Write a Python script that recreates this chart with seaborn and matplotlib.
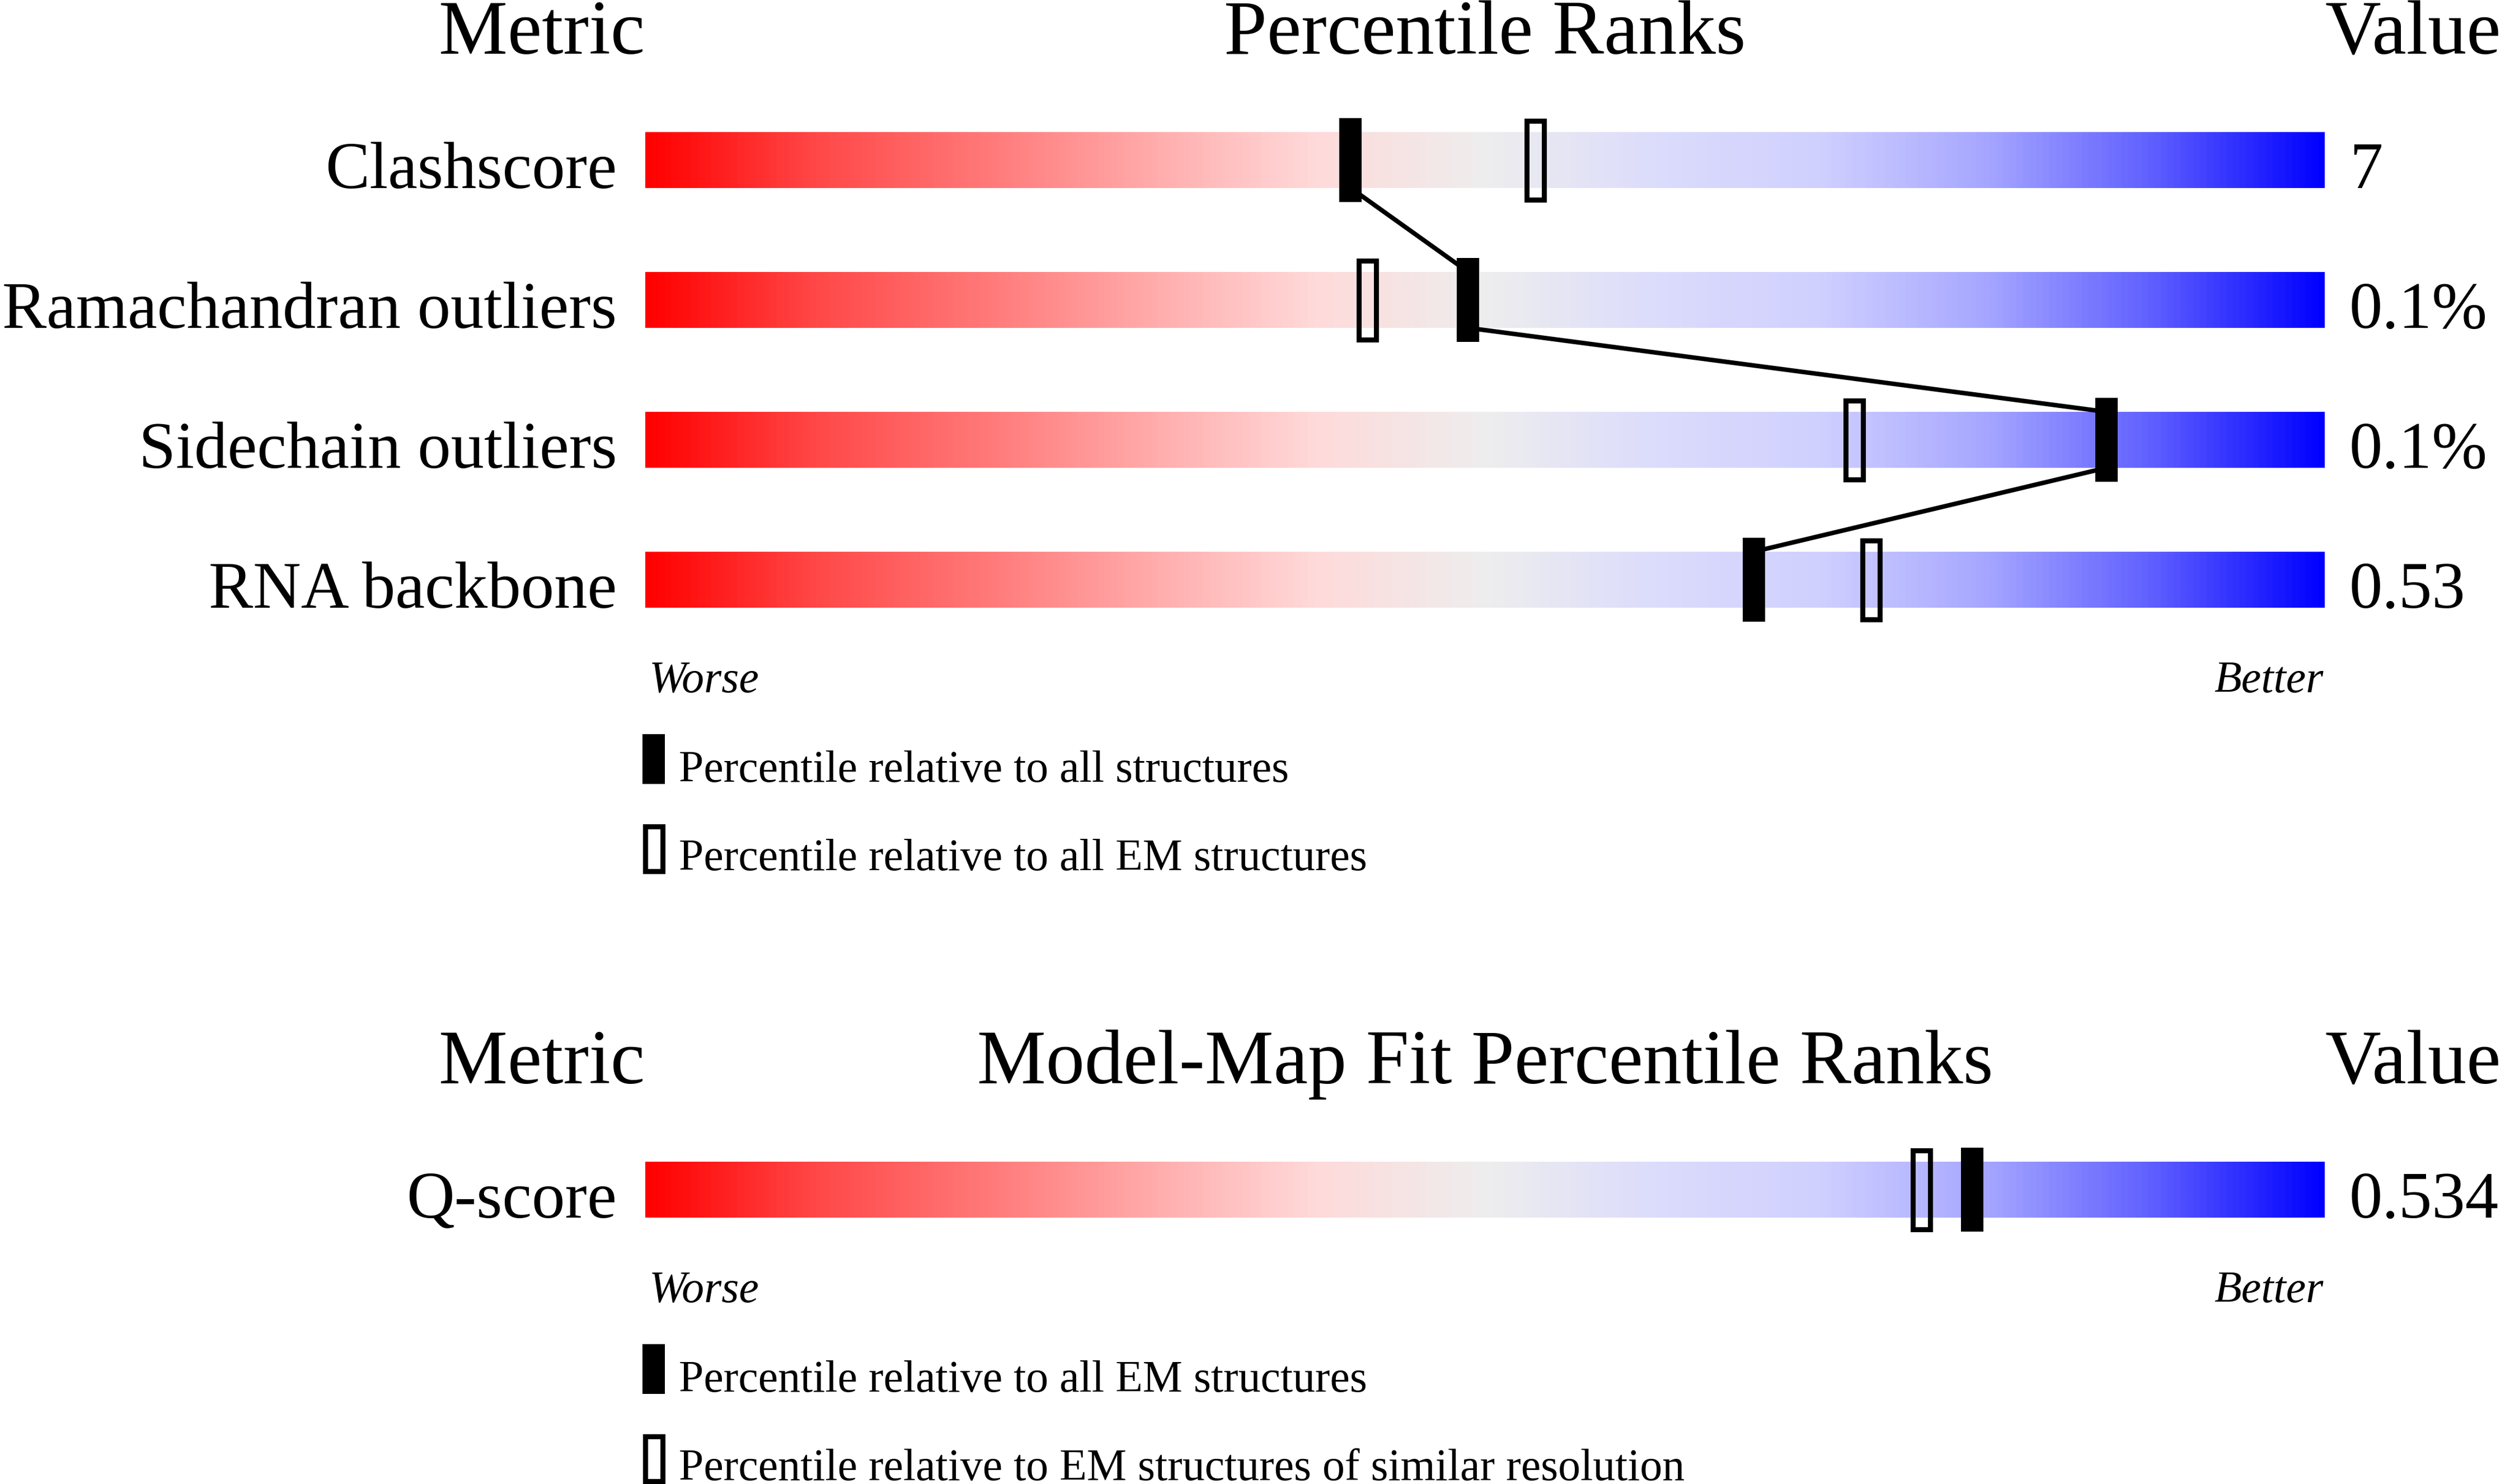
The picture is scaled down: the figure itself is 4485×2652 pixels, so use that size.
import numpy as np
import matplotlib
matplotlib.use("Agg")
import matplotlib.pyplot as plt
import seaborn as sns
from matplotlib.colors import LinearSegmentedColormap

# validation metrics (top panel)
metrics = ["Clashscore", "Ramachandran outliers", "Sidechain outliers", "RNA backbone"]
values = ["7", "0.1%", "0.1%", "0.53"]
pct_all = [42, 49, 87, 66]      # filled markers: all structures
pct_em = [53, 43, 72, 73]       # open markers: all EM structures

# model-map fit (bottom panel)
fit_metrics = ["Q-score"]
fit_values = ["0.534"]
fit_pct_em = [79]               # filled: all EM structures
fit_pct_res = [76]              # open: EM structures of similar resolution

sns.set_style("white")
plt.rcParams["font.family"] = ["Liberation Serif", "DejaVu Serif"]
plt.rcParams["text.color"] = "black"

W, H = 4485, 2652
X0, X1 = 1153, 4154            # pixel extent of the slider bars
scale = (X1 - X0) / 100.0


def px(x):
    # pixel column -> percentile units of the axes
    return (x - X0) / scale


grad = LinearSegmentedColormap.from_list("slider", [
    (0.00, (1.00, 0.00, 0.00)),
    (0.10, (1.00, 0.28, 0.28)),
    (0.20, (1.00, 0.47, 0.47)),
    (0.30, (1.00, 0.67, 0.67)),
    (0.40, (1.00, 0.855, 0.855)),
    (0.50, (0.933, 0.933, 0.933)),
    (0.60, (0.863, 0.863, 0.988)),
    (0.70, (0.816, 0.816, 1.00)),
    (0.80, (0.65, 0.65, 1.00)),
    (0.90, (0.37, 0.37, 1.00)),
    (1.00, (0.00, 0.00, 1.00)),
])
gradient = np.linspace(0, 1, 1024).reshape(1, -1)

fig = plt.figure(figsize=(W / 100, H / 100), dpi=100)
ax = fig.add_axes([0, 0, 1, 1])

BIG, MID, SMALL = 99.5, 85.5, 57.5


def panel(y0, title, names, vals, filled, hollow, leg_labels):
    ys = y0 + 250 * np.arange(len(names))
    # headers
    ax.text(px(1152), y0 - 190, "Metric", fontsize=BIG, ha="right", va="baseline")
    ax.text(50, y0 - 190, title, fontsize=BIG, ha="center", va="baseline")
    ax.text(px(4155), y0 - 190, "Value", fontsize=BIG, ha="left", va="baseline")

    for y, name, val in zip(ys, names, vals):
        ax.imshow(gradient, cmap=grad, aspect="auto", extent=(0, 100, y + 50, y - 50),
                  interpolation="bilinear", zorder=0)
        ax.text(px(1102), y + 50, name, fontsize=MID, ha="right", va="baseline")
        ax.text(px(4198), y + 50, val, fontsize=MID, ha="left", va="baseline")

    # line joining the filled markers
    if len(filled) > 1:
        lx = np.repeat(filled, 2)
        ly = np.column_stack([ys - 50, ys + 50]).ravel()
        sns.lineplot(x=lx, y=ly, sort=False, estimator=None, color="black",
                     linewidth=5.8, ax=ax, zorder=2, legend=False)

    ax.bar(filled, 150, width=40 / scale, bottom=ys - 75, color="black",
           linewidth=0, zorder=3)
    ax.bar(hollow, 141, width=31 / scale, bottom=ys - 70.5, facecolor="none",
           edgecolor="black", linewidth=6.5, zorder=3)

    yl = ys[-1]
    ax.text(px(1160), yl + 201, "Worse", fontsize=SMALL, style="italic",
            ha="left", va="baseline")
    ax.text(px(4152), yl + 201, "Better", fontsize=SMALL, style="italic",
            ha="right", va="baseline")

    # legend
    ax.bar([px(1168)], 89, width=40 / scale, bottom=yl + 276, color="black",
           linewidth=0, zorder=3)
    ax.bar([px(1168)], 80, width=31 / scale, bottom=yl + 440.5, facecolor="none",
           edgecolor="black", linewidth=6.5, zorder=3)
    ax.text(px(1213), yl + 361, leg_labels[0], fontsize=SMALL, ha="left", va="baseline")
    ax.text(px(1213), yl + 519, leg_labels[1], fontsize=SMALL, ha="left", va="baseline")


panel(286, "Percentile Ranks", metrics, values, pct_all, pct_em,
      ["Percentile relative to all structures",
       "Percentile relative to all EM structures"])
panel(2126, "Model-Map Fit Percentile Ranks", fit_metrics, fit_values,
      fit_pct_em, fit_pct_res,
      ["Percentile relative to all EM structures",
       "Percentile relative to EM structures of similar resolution"])

ax.set_xlim(px(0), px(W))
ax.set_ylim(H, 0)
ax.set_aspect("auto")
ax.axis("off")

fig.savefig("out.png", dpi=100, facecolor="white")
